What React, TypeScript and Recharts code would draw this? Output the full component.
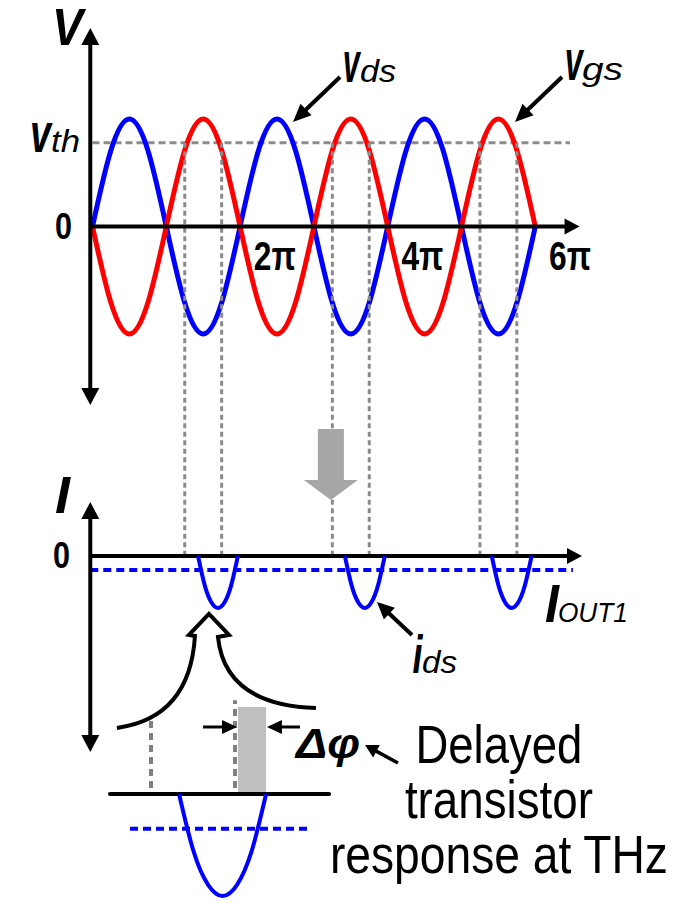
import {
  ComposedChart,
  Line,
  XAxis,
  YAxis,
  ReferenceLine,
  ReferenceDot,
  ReferenceArea,
} from "recharts";

const W = 692;
const H = 904;
const FONT = "'Liberation Sans', Arial, Helvetica, sans-serif";

// phase is in multiples of π
const phase = [
  0, 0.25, 0.5, 0.75, 1, 1.25, 1.5, 1.75, 2, 2.25, 2.5, 2.75, 3, 3.25, 3.5,
  3.75, 4, 4.25, 4.5, 4.75, 5, 5.25, 5.5, 5.75, 6,
];
const vds = [
  0, 0.71, 1, 0.71, 0, -0.71, -1, -0.71, 0, 0.71, 1, 0.71, 0, -0.71, -1,
  -0.71, 0, 0.71, 1, 0.71, 0, -0.71, -1, -0.71, 0,
];
const vgs = [
  0, -0.71, -1, -0.71, 0, 0.71, 1, 0.71, 0, -0.71, -1, -0.71, 0, 0.71, 1,
  0.71, 0, -0.71, -1, -0.71, 0, 0.71, 1, 0.71, 0,
];
const vth = 0.78;
const thresholdPhase = [1.25, 1.75, 3.25, 3.75, 5.25, 5.75];
const tickPhase = [2, 4, 6];
const tickLabels = ["2π", "4π", "6π"];

// drain current pulses (normalised, negative = flowing out)
const pulse1Phase = [1.43, 1.52, 1.61, 1.7, 1.79, 1.88, 1.97];
const pulse2Phase = [3.42, 3.51, 3.6, 3.69, 3.78, 3.87, 3.96];
const pulse3Phase = [5.41, 5.5, 5.59, 5.68, 5.77, 5.86, 5.95];
const pulseValue = [0, -0.56, -0.89, -1, -0.89, -0.56, 0];
const iout1 = -0.27;

// zoomed pulse in the inset
const insetPhase = [1.417, 1.503, 1.59, 1.676, 1.762, 1.849, 1.935];
const insetValue = [0, -0.56, -0.89, -1, -0.89, -0.56, 0];
const insetIout = -0.34;
const delayFrom = 1.75;
const delayTo = 1.935;

const textLines = ["Delayed", "transistor", "response at THz"];

// axis frames: pixel of value 0, pixels per unit
const MAIN_X = { zero: 92.5, unit: 73.8 };
const INSET_X = { zero: -59, unit: 168 };
const V_Y = { zero: 226.5, unit: 107.5 };
const I_Y = { zero: 556, unit: 52 };
const INS_Y = { zero: 794, unit: 102 };

const xDom = (f: { zero: number; unit: number }) => [
  -f.zero / f.unit,
  (W - f.zero) / f.unit,
];
const yDom = (f: { zero: number; unit: number }) => [
  (f.zero - H) / f.unit,
  f.zero / f.unit,
];

const AXIS_X = -0.03;
const V_AT_I_ZERO = (V_Y.zero - I_Y.zero) / V_Y.unit;

const rows = (xs: number[], ys: number[]) =>
  xs.map((x, i) => ({ x, y: ys[i] }));

const headPts = (
  tx: number,
  ty: number,
  ux: number,
  uy: number,
  len: number,
  half: number
) => {
  const bx = tx - ux * len;
  const by = ty - uy * len;
  return `${tx},${ty} ${bx - uy * half},${by + ux * half} ${bx + uy * half},${by - ux * half}`;
};

const arrow =
  ({ w = 4, len = 17, half = 9, both = false, color = "#000" }) =>
  (p: any) => {
    const { x1, y1, x2, y2 } = p;
    const d = Math.hypot(x2 - x1, y2 - y1) || 1;
    const ux = (x2 - x1) / d;
    const uy = (y2 - y1) / d;
    const cut = len * 0.7;
    return (
      <g>
        <line
          x1={both ? x1 + ux * cut : x1}
          y1={both ? y1 + uy * cut : y1}
          x2={x2 - ux * cut}
          y2={y2 - uy * cut}
          stroke={color}
          strokeWidth={w}
        />
        <polygon points={headPts(x2, y2, ux, uy, len, half)} fill={color} />
        {both && (
          <polygon points={headPts(x1, y1, -ux, -uy, len, half)} fill={color} />
        )}
      </g>
    );
  };

type TxtOpts = {
  size: number;
  bold?: boolean;
  italic?: boolean;
  len?: number;
  anchor?: "start" | "middle" | "end";
};
const txt = (s: string, o: TxtOpts) => (p: any) => (
  <text
    x={p.cx}
    y={p.cy}
    fontFamily={FONT}
    fontSize={o.size}
    fontWeight={o.bold ? 700 : 400}
    fontStyle={o.italic ? "italic" : "normal"}
    textAnchor={o.anchor ?? "start"}
    textLength={o.len}
    lengthAdjust={o.len ? "spacingAndGlyphs" : undefined}
    fill="#000"
  >
    {s}
  </text>
);

// grey "maps to" arrow, anchored at its tip
const greyArrow = (p: any) => {
  const { cx, cy } = p;
  const pts = [
    [0, 0],
    [-27, -20],
    [-13, -20],
    [-13, -71],
    [13, -71],
    [13, -20],
    [27, -20],
  ]
    .map(([dx, dy]) => `${cx + dx},${cy + dy}`)
    .join(" ");
  return <polygon points={pts} fill="#a6a6a6" />;
};

// hollow zoom arrow, anchored at its tip
const zoomArrow = (p: any) => {
  const { cx: x, cy: y } = p;
  const d = `M${x - 92},${y + 114} Q${x - 19},${y + 104} ${x - 14},${y + 22} L${x - 20},${y + 21} L${x},${y} L${x + 20},${y + 21} L${x + 9},${y + 23} Q${x + 16},${y + 91} ${x + 107},${y + 94}`;
  return (
    <path d={d} fill="none" stroke="#000" strokeWidth={4} strokeLinejoin="miter" />
  );
};

const M = { xAxisId: "main", yAxisId: "v" } as const;
const MI = { xAxisId: "main", yAxisId: "i" } as const;
const IN = { xAxisId: "inset", yAxisId: "ins" } as const;

export default function App() {
  return (
    <div
      style={{
        position: "absolute",
        left: 0,
        top: 0,
        width: W,
        height: H,
        background: "#fff",
      }}
    >
      <ComposedChart
        width={W}
        height={H}
        margin={{ top: 0, right: 0, bottom: 0, left: 0 }}
      >
        <XAxis xAxisId="main" dataKey="x" type="number" domain={xDom(MAIN_X)} allowDataOverflow hide />
        <XAxis xAxisId="inset" dataKey="x" type="number" domain={xDom(INSET_X)} allowDataOverflow hide />
        <YAxis yAxisId="v" type="number" domain={yDom(V_Y)} allowDataOverflow hide />
        <YAxis yAxisId="i" type="number" domain={yDom(I_Y)} allowDataOverflow hide />
        <YAxis yAxisId="ins" type="number" domain={yDom(INS_Y)} allowDataOverflow hide />

        {/* Δφ shaded delay */}
        <ReferenceArea {...IN} x1={delayTo - 0.167} x2={delayTo} y1={0} y2={0.853} fill="#bfbfbf" fillOpacity={1} stroke="none" />

        {/* threshold line */}
        <ReferenceLine {...M} segment={[{ x: 0, y: vth }, { x: 6.47, y: vth }]} stroke="#8c8c8c" strokeWidth={3} strokeDasharray="7 4" />

        {/* voltage waves */}
        <Line {...M} data={rows(phase, vds)} dataKey="y" type="natural" stroke="#0000ff" strokeWidth={5} dot={false} isAnimationActive={false} />
        <Line {...M} data={rows(phase, vgs)} dataKey="y" type="natural" stroke="#ff0000" strokeWidth={5} dot={false} isAnimationActive={false} />

        {/* threshold crossings projected down */}
        {thresholdPhase.map((x) => (
          <ReferenceLine key={x} {...M} segment={[{ x, y: vth }, { x, y: V_AT_I_ZERO }]} stroke="#8a8a8a" strokeWidth={3} strokeDasharray="5 3.5" />
        ))}

        {/* top axes */}
        <ReferenceLine {...M} segment={[{ x: AXIS_X, y: -1.66 }, { x: AXIS_X, y: 1.847 }]} shape={arrow({ both: true, half: 9 })} />
        <ReferenceLine {...M} segment={[{ x: AXIS_X, y: 0 }, { x: 6.6, y: 0 }]} shape={arrow({ half: 8, len: 15 })} />

        <ReferenceDot {...M} x={-0.549} y={1.688} shape={txt("V", { size: 52, bold: true, italic: true, len: 31 })} />
        <ReferenceDot {...M} x={-0.847} y={0.693} shape={txt("v", { size: 56, bold: true, italic: true, len: 21 })} />
        <ReferenceDot {...M} x={-0.562} y={0.693} shape={txt("th", { size: 31, italic: true, len: 29 })} />
        <ReferenceDot {...M} x={-0.278} y={-0.116} shape={txt("0", { size: 36, bold: true, anchor: "end", len: 17 })} />
        {tickPhase.map((x, i) => (
          <ReferenceDot key={x} {...M} x={x + 0.47} y={-0.405} shape={txt(tickLabels[i], { size: 41, bold: true, anchor: "middle", len: 42 })} />
        ))}

        <ReferenceDot {...M} x={3.39} y={1.344} shape={txt("v", { size: 58, bold: true, italic: true, len: 17 })} />
        <ReferenceDot {...M} x={3.626} y={1.344} shape={txt("ds", { size: 31, italic: true, len: 36 })} />
        <ReferenceLine {...M} segment={[{ x: 3.354, y: 1.391 }, { x: 2.717, y: 0.972 }]} shape={arrow({ len: 18, half: 8 })} />
        <ReferenceDot {...M} x={6.398} y={1.363} shape={txt("v", { size: 58, bold: true, italic: true, len: 18 })} />
        <ReferenceDot {...M} x={6.633} y={1.363} shape={txt("gs", { size: 31, italic: true, len: 41 })} />
        <ReferenceLine {...M} segment={[{ x: 6.362, y: 1.391 }, { x: 5.725, y: 0.972 }]} shape={arrow({ len: 18, half: 8 })} />

        <ReferenceDot {...MI} x={3.23} y={1.077} shape={greyArrow} />

        {/* current axes */}
        <ReferenceLine {...MI} segment={[{ x: -0.03, y: iout1 }, { x: 6.51, y: iout1 }]} stroke="#0000ff" strokeWidth={4} strokeDasharray="8 5" />
        <ReferenceLine {...MI} segment={[{ x: AXIS_X, y: -3.77 }, { x: AXIS_X, y: 1.038 }]} shape={arrow({ both: true, half: 9 })} />
        <ReferenceLine {...MI} segment={[{ x: AXIS_X, y: 0 }, { x: 6.633, y: 0 }]} shape={arrow({ half: 8, len: 15 })} />

        {[pulse1Phase, pulse2Phase, pulse3Phase].map((xs, k) => (
          <Line key={k} {...MI} data={rows(xs, pulseValue)} dataKey="y" type="natural" stroke="#0000ff" strokeWidth={4} dot={false} isAnimationActive={false} />
        ))}

        <ReferenceDot {...MI} x={-0.508} y={0.827} shape={txt("I", { size: 52, bold: true, italic: true, len: 15 })} />
        <ReferenceDot {...MI} x={-0.305} y={-0.23} shape={txt("0", { size: 36, bold: true, anchor: "end", len: 17 })} />
        <ReferenceDot {...MI} x={6.131} y={-1.269} shape={txt("I", { size: 54, bold: true, italic: true, len: 14 })} />
        <ReferenceDot {...MI} x={6.307} y={-1.269} shape={txt("OUT1", { size: 28, italic: true, len: 70 })} />
        <ReferenceDot {...MI} x={4.336} y={-2.25} shape={txt("i", { size: 54, bold: true, italic: true, len: 10 })} />
        <ReferenceDot {...MI} x={4.465} y={-2.25} shape={txt("ds", { size: 31, italic: true, len: 35 })} />
        <ReferenceLine {...MI} segment={[{ x: 4.329, y: -1.519 }, { x: 3.855, y: -0.885 }]} shape={arrow({ len: 17, half: 8 })} />

        {/* inset: zoomed pulse */}
        <ReferenceLine {...IN} segment={[{ x: 1.25, y: 0.06 }, { x: 1.25, y: 0.745 }]} stroke="#808080" strokeWidth={4} strokeDasharray="7 5" />
        <ReferenceLine {...IN} segment={[{ x: delayFrom, y: 0.06 }, { x: delayFrom, y: 0.92 }]} stroke="#808080" strokeWidth={4} strokeDasharray="7 5" />
        <ReferenceLine {...IN} segment={[{ x: 1.006, y: 0 }, { x: 2.31, y: 0 }]} stroke="#000" strokeWidth={4} strokeLinecap="round" />
        <ReferenceLine {...IN} segment={[{ x: 1.125, y: insetIout }, { x: 2.185, y: insetIout }]} stroke="#0000ff" strokeWidth={4} strokeDasharray="8 5" />
        <Line {...IN} data={rows(insetPhase, insetValue)} dataKey="y" type="natural" stroke="#0000ff" strokeWidth={4} dot={false} isAnimationActive={false} />

        <ReferenceLine {...IN} segment={[{ x: 1.56, y: 0.657 }, { x: delayFrom + 0.012, y: 0.657 }]} shape={arrow({ w: 3, len: 15, half: 7 })} />
        <ReferenceLine {...IN} segment={[{ x: 2.137, y: 0.657 }, { x: delayTo + 0.005, y: 0.657 }]} shape={arrow({ w: 3, len: 15, half: 7 })} />
        <ReferenceDot {...IN} x={1.595} y={1.765} shape={zoomArrow} />

        <ReferenceDot {...IN} x={2.113} y={0.353} shape={txt("Δφ", { size: 42, bold: true, italic: true, len: 64 })} />
        <ReferenceLine {...IN} segment={[{ x: 2.72, y: 0.304 }, { x: 2.524, y: 0.48 }]} shape={arrow({ w: 3.5, len: 13, half: 7 })} />
        {textLines.map((s, i) => (
          <ReferenceDot key={s} {...IN} x={3.321} y={0.304 - 0.539 * i} shape={txt(s, { size: 54, anchor: "middle", len: [167, 188, 338][i] })} />
        ))}
      </ComposedChart>
    </div>
  );
}
